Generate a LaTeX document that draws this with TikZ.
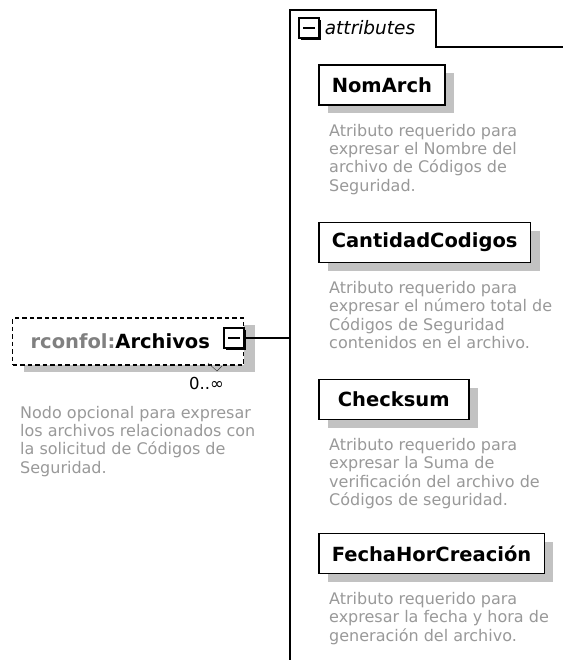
\documentclass[tikz,border=0pt]{standalone}
\usepackage{fontspec}
\setmainfont{DejaVu Sans}
\usepackage{tikz}
\usetikzlibrary{positioning,shadows,calc}
\definecolor{desctext}{gray}{0.6}
\definecolor{prefixtext}{gray}{0.5}
\definecolor{shadowgray}{gray}{0.76}
\tikzstyle{namefont}=[font=\fontsize{19.5}{22}\selectfont\bfseries]
\tikzstyle{attrbox}=[draw, line width=1.5pt, fill=white, namefont, anchor=west, minimum height=40pt, inner xsep=13pt, drop shadow={shadow xshift=9pt, shadow yshift=-8pt, fill=shadowgray, opacity=1}]
\tikzstyle{elembox}=[draw, dash pattern=on 4.5pt off 3pt, line width=1.2pt, fill=white, namefont, anchor=west, minimum height=47pt, text width=195pt, inner xsep=18pt, align=left, drop shadow={shadow xshift=11pt, shadow yshift=-7pt, fill=shadowgray, opacity=1}]
\tikzstyle{desc}=[anchor=north west, inner sep=0pt, align=left, text=desctext, font=\fontsize{16}{18.3}\selectfont]
\tikzstyle{minusbox}=[draw, line width=1.4pt, fill=white, minimum width=20pt, minimum height=20pt, inner sep=0pt, drop shadow={shadow xshift=2pt, shadow yshift=-2pt, fill=black, opacity=1}, path picture={\draw[line width=1.3pt] ([xshift=4pt]path picture bounding box.west) -- ([xshift=-4pt]path picture bounding box.east);}]

\begin{document}
\begin{tikzpicture}[x=1pt, y=-1pt]
	\useasboundingbox[fill=white] (0,0) rectangle (563,660);
	\coordinate (attrtop) at (290,10);
	\draw[line width=1.2pt] (290,660) -- (attrtop) -- (436,10) -- (436,47) -- (563,47);
	\node[minusbox] (attrcb) at (309,28) {};
	\node[right=5pt of attrcb, inner sep=0pt, font=\fontsize{18.5}{20}\selectfont\itshape] (attrlbl) {attributes};

	\node[attrbox] (nomarch) at (318,85) {NomArch};
	\node[desc] (nomarchdesc) at ([xshift=11pt,yshift=-18pt]nomarch.south west) {Atributo requerido para\\expresar el Nombre del\\archivo de Códigos de\\Seguridad.};
	\node[attrbox] (cantidad) at (318,242.5) {CantidadCodigos};
	\node[desc] (cantidaddesc) at ([xshift=11pt,yshift=-18pt]cantidad.south west) {Atributo requerido para\\expresar el número total de\\Códigos de Seguridad\\contenidos en el archivo.};
	\node[attrbox, minimum width=150pt] (checksum) at (318,399.5) {Checksum};
	\node[desc] (checksumdesc) at ([xshift=11pt,yshift=-18pt]checksum.south west) {Atributo requerido para\\expresar la Suma de\\verificación del archivo de\\Códigos de seguridad.};
	\node[attrbox] (fecha) at (318,553.5) {FechaHorCreación};
	\node[desc] (fechadesc) at ([xshift=11pt,yshift=-18pt]fecha.south west) {Atributo requerido para\\expresar la fecha y hora de\\generación del archivo.};

	\node[elembox] (archivos) at (12,341.5) {{\color{prefixtext}rconfol:}Archivos};
	\node[minusbox] (archcb) at (234,338) {};
	\draw[line width=1.2pt] (archcb.east) -- (archcb.east -| attrtop);
	\draw[black!80] (208,363) -- (217,371) -- (222,366);
	\node[anchor=east, inner sep=0pt, font=\fontsize{16.5}{18}\selectfont] (occurs) at (224,383) {0..∞};
	\node[desc] (archivosdesc) at (20,406) {Nodo opcional para expresar\\los archivos relacionados con\\la solicitud de Códigos de\\Seguridad.};
\end{tikzpicture}
\end{document}
